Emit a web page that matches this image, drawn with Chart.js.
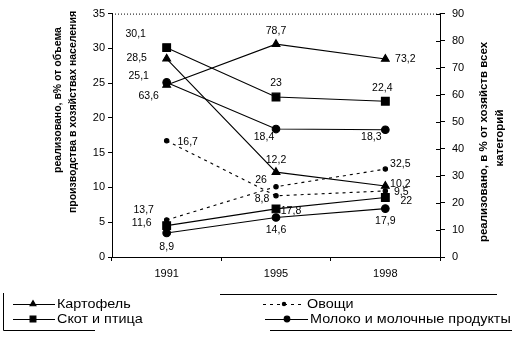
<!DOCTYPE html>
<html>
<head>
<meta charset="utf-8">
<script src="https://cdn.jsdelivr.net/npm/chart.js@4/dist/chart.umd.min.js"></script>
<style>
  html, body { margin: 0; padding: 0; background: #fff; }
  canvas { display: block; }
</style>
</head>
<body>
<canvas id="c" width="532" height="337"></canvas>
<script>
// Years on the category axis
const years = ['1991', '1995', '1998'];

// Share sold, % of household production volume (left axis)
const potatoLeft = [28.5, 12.2, 10.2];
const vegLeft    = [16.7, 8.8, 9.5];
const meatLeft   = [30.1, 23, 22.4];
const milkLeft   = [25.1, 18.4, 18.3];

// Share sold, % of all categories of farms (right axis)
const potatoRight = [63.6, 78.7, 73.2];
const vegRight    = [13.7, 26, 32.5];
const meatRight   = [11.6, 17.8, 22];
const milkRight   = [8.9, 14.6, 17.9];

// Axis tick settings
const leftTicks  = { min: 0, max: 35, step: 5 };
const rightTicks = { min: 0, max: 90, step: 10 };

// Product names
const names = ['Картофель', 'Овощи', 'Скот и птица', 'Молоко и молочные продукты'];

const leftTitle  = ['реализовано, в% от объема', 'производства в хозяйствах населения'];
const rightTitle = ['реализовано, в % от хозяйств всех', 'категорий'];

const FONT = '"Liberation Sans", Arial, sans-serif';

// Value-label placement around each point (dx, dy in px)
const labelOffsets = {
  potatoLeft:  [[-30, -1], [0, -12], [15, -2]],
  potatoRight: [[-18, 11], [0, -13], [20, 0]],
  vegLeft:     [[21, 1], [-14, 3], [16, 1]],
  vegRight:    [[-23, -10], [-15, -7], [15, -5]],
  meatLeft:    [[-31, -14], [0, -14], [-3, -13]],
  meatRight:   [[-25, -3], [15, 2], [21, 4]],
  milkLeft:    [[-28, -6], [-12, 8], [-14, 7]],
  milkRight:   [[0, 14], [0, 13], [0, 13]]
};

function series(key, data, name, axis, style, legend) {
  return Object.assign({
    key, label: name, data, yAxisID: axis, legendItem: legend,
    borderColor: '#000', backgroundColor: '#000',
    pointBorderColor: '#000', pointBackgroundColor: '#000',
    borderWidth: 1.1, tension: 0, fill: false
  }, style);
}

const triangle = { pointStyle: 'triangle', pointRadius: 4.5 };
const dot      = { pointStyle: 'circle', pointRadius: 2.2, borderDash: [3, 4] };
const square   = { pointStyle: 'rect', pointRadius: 5.5 };
const circle   = { pointStyle: 'circle', pointRadius: 3.8 };

const datasets = [
  series('potatoLeft',  potatoLeft,  names[0], 'y',  triangle, true),
  series('potatoRight', potatoRight, names[0], 'y1', triangle, false),
  series('vegLeft',     vegLeft,     names[1], 'y',  dot, true),
  series('vegRight',    vegRight,    names[1], 'y1', dot, false),
  series('meatLeft',    meatLeft,    names[2], 'y',  square, true),
  series('meatRight',   meatRight,   names[2], 'y1', square, false),
  series('milkLeft',    milkLeft,    names[3], 'y',  circle, true),
  series('milkRight',   milkRight,   names[3], 'y1', circle, false)
];

function fmt(v) { return String(v).replace('.', ','); }

// Draws axis titles, value labels, frame details and the legend box
const decorations = {
  id: 'decorations',
  afterDraw(chart) {
    const ctx = chart.ctx;
    const a = chart.chartArea;
    ctx.save();

    // dotted top edge of the plot
    ctx.strokeStyle = '#000';
    ctx.lineWidth = 1;
    ctx.setLineDash([1, 2]);
    ctx.beginPath();
    ctx.moveTo(a.left, a.top + 0.5);
    ctx.lineTo(a.right, a.top + 0.5);
    ctx.stroke();
    ctx.setLineDash([]);

    // inner tick marks on the right axis
    const y1 = chart.scales.y1;
    ctx.beginPath();
    y1.ticks.forEach((t, i) => {
      const py = Math.round(y1.getPixelForTick(i)) + 0.5;
      ctx.moveTo(a.right - 4, py);
      ctx.lineTo(a.right, py);
    });
    ctx.stroke();

    // value labels
    ctx.fillStyle = '#000';
    ctx.font = '10.5px ' + FONT;
    ctx.textAlign = 'center';
    ctx.textBaseline = 'middle';
    chart.data.datasets.forEach((ds, di) => {
      const meta = chart.getDatasetMeta(di);
      const offs = labelOffsets[ds.key];
      meta.data.forEach((pt, i) => {
        ctx.fillText(fmt(ds.data[i]), pt.x + offs[i][0], pt.y + offs[i][1]);
      });
    });

    // axis titles
    ctx.font = 'bold 10.5px ' + FONT;
    const drawRot = (text, x, y, ang) => {
      ctx.save();
      ctx.translate(x, y);
      ctx.rotate(ang);
      ctx.fillText(text, 0, 0);
      ctx.restore();
    };
    drawRot(leftTitle[0], 58, 100, -Math.PI / 2);
    drawRot(leftTitle[1], 73, 112, -Math.PI / 2);
    ctx.font = 'bold 11.5px ' + FONT;
    drawRot(rightTitle[0], 484, 142, -Math.PI / 2);
    drawRot(rightTitle[1], 500, 138, -Math.PI / 2);

    // legend frame
    ctx.lineWidth = 1;
    ctx.beginPath();
    ctx.moveTo(3.5, 293); ctx.lineTo(3.5, 330.5);
    ctx.lineTo(95, 330.5);
    ctx.moveTo(270, 330.5); ctx.lineTo(512, 330.5);
    ctx.moveTo(220, 294.5); ctx.lineTo(497, 294.5);
    ctx.stroke();

    // legend entries
    const slots = [
      { x0: 13, x1: 55, mx: 33, tx: 57, y: 304 },
      { x0: 263, x1: 305, mx: 284, tx: 307, y: 304 },
      { x0: 13, x1: 55, mx: 33, tx: 57, y: 319 },
      { x0: 265, x1: 308, mx: 287, tx: 310, y: 319 }
    ];
    ctx.font = '12.5px ' + FONT;
    ctx.textAlign = 'left';
    let k = 0;
    chart.data.datasets.forEach(ds => {
      if (!ds.legendItem) return;
      const s = slots[k++];
      ctx.setLineDash(ds.borderDash || []);
      ctx.lineWidth = ds.borderWidth;
      ctx.beginPath();
      ctx.moveTo(s.x0, s.y + 0.5);
      ctx.lineTo(s.x1, s.y + 0.5);
      ctx.stroke();
      ctx.setLineDash([]);
      Chart.helpers.drawPoint(ctx, {
        pointStyle: ds.pointStyle, radius: ds.pointRadius * 0.75, borderWidth: 1
      }, s.mx, s.y);
      // legend text is set slightly wide
      ctx.save();
      ctx.translate(s.tx, s.y + 1);
      ctx.scale(1.15, 1);
      ctx.fillText(ds.label, 0, 0);
      ctx.restore();
    });

    ctx.restore();
  }
};

const tickFont = { family: FONT, size: 11 };

new Chart(document.getElementById('c'), {
  type: 'line',
  data: { labels: years, datasets },
  options: {
    responsive: false,
    animation: false,
    layout: { padding: { top: 8, bottom: 54, left: 0, right: 0 } },
    plugins: { legend: { display: false }, tooltip: { enabled: false } },
    scales: {
      x: {
        offset: true,
        grid: { display: true, drawOnChartArea: false, offset: true, tickLength: 4, color: '#000' },
        border: { color: '#000', width: 1 },
        ticks: { font: tickFont, color: '#000', padding: 6 },
        afterFit: s => { s.height = 26; }
      },
      y: {
        position: 'left',
        min: leftTicks.min, max: leftTicks.max,
        ticks: { stepSize: leftTicks.step, font: tickFont, color: '#000', padding: 3 },
        grid: { drawOnChartArea: false, tickLength: 4, color: '#000' },
        border: { color: '#000', width: 1 },
        afterFit: s => { s.width = 112; }
      },
      y1: {
        position: 'right',
        min: rightTicks.min, max: rightTicks.max,
        ticks: { stepSize: rightTicks.step, font: tickFont, color: '#000', padding: 7 },
        grid: { drawOnChartArea: false, tickLength: 5, color: '#000' },
        border: { color: '#000', width: 1 },
        afterFit: s => { s.width = 92; }
      }
    }
  },
  plugins: [decorations]
});
</script>
</body>
</html>
